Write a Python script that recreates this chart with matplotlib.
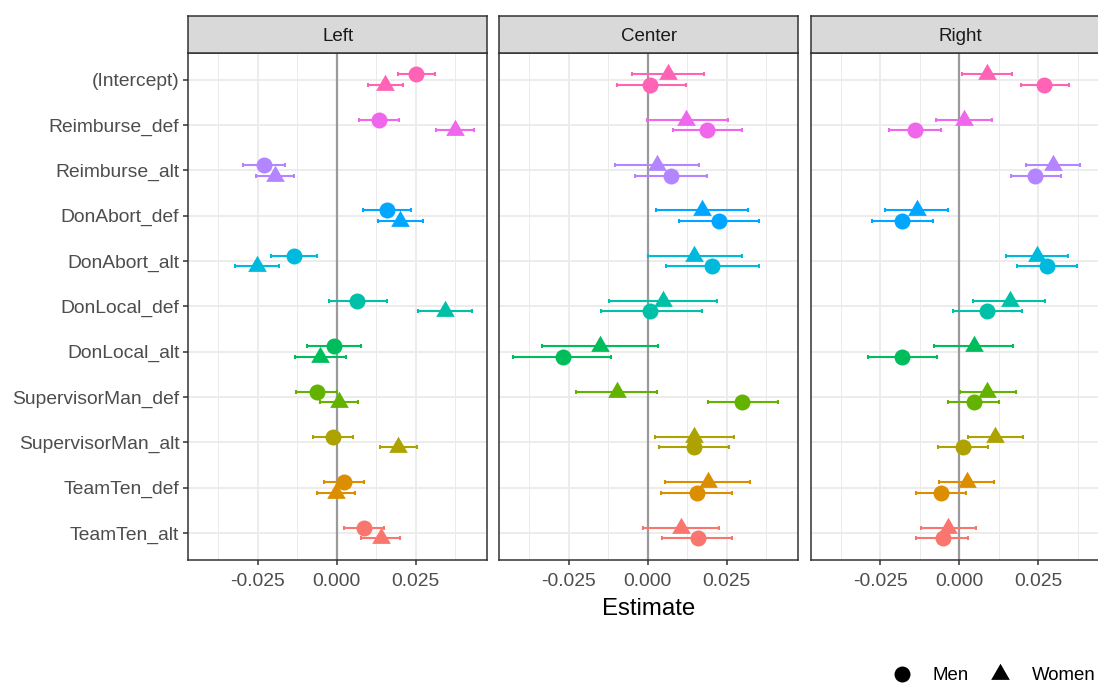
import matplotlib
matplotlib.use("Agg")
import matplotlib.pyplot as plt
from matplotlib.lines import Line2D
from matplotlib.ticker import FixedLocator
import numpy as np

plt.rcParams['font.family'] = ['Liberation Sans', 'DejaVu Sans']

# ---- data ----
terms = ["TeamTen_alt", "TeamTen_def", "SupervisorMan_alt", "SupervisorMan_def",
         "DonLocal_alt", "DonLocal_def", "DonAbort_alt", "DonAbort_def",
         "Reimburse_alt", "Reimburse_def", "(Intercept)"]
term_colors = ["#F8766D", "#DB8E00", "#AEA200", "#64B200", "#00BD5C", "#00C1A7",
               "#00BADE", "#00A6FF", "#B385FF", "#EF67EB", "#FF63B6"]
panels = ["Left", "Center", "Right"]
x_ticks = [-0.025, 0.0, 0.025]
x_tick_labels = ["-0.025", "0.000", "0.025"]
groups = ["Men", "Women"]

# order of values follows `terms` (bottom to top)
left_men = [0.0086, 0.0025, -0.0012, -0.0063, -0.0008, 0.0066, -0.0136, 0.0160, -0.0229, 0.0135, 0.0252]
left_men_lo = [0.0022, -0.0039, -0.0076, -0.0127, -0.0095, -0.0024, -0.0208, 0.0085, -0.0296, 0.0072, 0.0193]
left_men_hi = [0.0149, 0.0087, 0.0053, 0.0001, 0.0078, 0.0159, -0.0062, 0.0236, -0.0163, 0.0197, 0.0311]
left_women = [0.0139, -0.0002, 0.0195, 0.0007, -0.0053, 0.0344, -0.0252, 0.0201, -0.0195, 0.0375, 0.0153]
left_women_lo = [0.0077, -0.0061, 0.0137, -0.0053, -0.0132, 0.0259, -0.0320, 0.0132, -0.0255, 0.0314, 0.0098]
left_women_hi = [0.0200, 0.0058, 0.0255, 0.0068, 0.0029, 0.0427, -0.0182, 0.0272, -0.0135, 0.0435, 0.0209]

center_men = [0.0158, 0.0155, 0.0146, 0.0300, -0.0269, 0.0009, 0.0203, 0.0225, 0.0075, 0.0189, 0.0009]
center_men_lo = [0.0045, 0.0042, 0.0035, 0.0191, -0.0426, -0.0148, 0.0057, 0.0098, -0.0040, 0.0080, -0.0097]
center_men_hi = [0.0268, 0.0266, 0.0258, 0.0414, -0.0116, 0.0171, 0.0351, 0.0353, 0.0188, 0.0299, 0.0121]
center_women = [0.0106, 0.0191, 0.0147, -0.0096, -0.0149, 0.0049, 0.0147, 0.0173, 0.0031, 0.0122, 0.0063]
center_women_lo = [-0.0015, 0.0056, 0.0022, -0.0225, -0.0333, -0.0123, 0.0000, 0.0028, -0.0102, -0.0003, -0.0049]
center_women_hi = [0.0226, 0.0324, 0.0273, 0.0031, 0.0033, 0.0221, 0.0298, 0.0316, 0.0163, 0.0253, 0.0177]

right_men = [-0.0053, -0.0058, 0.0013, 0.0045, -0.0180, 0.0087, 0.0277, -0.0180, 0.0241, -0.0139, 0.0269]
right_men_lo = [-0.0136, -0.0138, -0.0068, -0.0036, -0.0288, -0.0021, 0.0183, -0.0275, 0.0163, -0.0223, 0.0194]
right_men_hi = [0.0029, 0.0022, 0.0092, 0.0124, -0.0069, 0.0198, 0.0372, -0.0084, 0.0321, -0.0057, 0.0347]
right_women = [-0.0036, 0.0024, 0.0114, 0.0089, 0.0045, 0.0160, 0.0247, -0.0134, 0.0297, 0.0016, 0.0087]
right_women_lo = [-0.0120, -0.0063, 0.0028, 0.0001, -0.0081, 0.0044, 0.0148, -0.0234, 0.0212, -0.0074, 0.0008]
right_women_hi = [0.0052, 0.0111, 0.0200, 0.0178, 0.0171, 0.0271, 0.0344, -0.0036, 0.0383, 0.0103, 0.0168]

panel_data = {
    "Left": (left_men, left_men_lo, left_men_hi, left_women, left_women_lo, left_women_hi),
    "Center": (center_men, center_men_lo, center_men_hi, center_women, center_women_lo, center_women_hi),
    "Right": (right_men, right_men_lo, right_men_hi, right_women, right_women_lo, right_women_hi),
}
# in the Left facet Men is dodged upward; in the others Women is
men_on_top = {"Left": True, "Center": False, "Right": False}

# ---- figure ----
W, H = 1098, 684
fig = plt.figure(figsize=(W / 100, H / 100), dpi=100)

panel_x0 = [188.3, 499.3, 811.0]
panel_w = 298.8
panel_top, panel_bot = 52.5, 560.0
strip_top = 16.0

tri = [(-1, -0.577), (1, -0.577), (0, 1.155)]
dodge = 0.115
ypos = np.arange(1, len(terms) + 1)

tick_col = "#4D4D4D"
tick_fs = 13.9

for i, name in enumerate(panels):
    x0 = panel_x0[i]
    ax = fig.add_axes([x0 / W, 1 - panel_bot / H, panel_w / W, (panel_bot - panel_top) / H])
    ax.set_xlim(-0.0469, 0.0476)
    ax.set_ylim(0.4, len(terms) + 0.6)
    ax.set_facecolor("white")
    ax.xaxis.set_major_locator(FixedLocator(x_ticks))
    ax.set_xticklabels(x_tick_labels)
    ax.xaxis.set_minor_locator(FixedLocator([-0.0375, -0.0125, 0.0125, 0.0375]))
    ax.set_yticks(ypos)
    ax.grid(which="major", color="#EBEBEB", lw=1.3, zorder=0)
    ax.grid(which="minor", axis="x", color="#EBEBEB", lw=0.7, zorder=0)
    ax.set_axisbelow(True)
    ax.tick_params(axis="both", which="major", colors="#333333", labelcolor=tick_col,
                   labelsize=tick_fs, length=3.5, width=1.1)
    ax.tick_params(axis="x", which="major", pad=5.5)
    ax.tick_params(axis="y", which="major", pad=3)
    ax.tick_params(axis="x", which="minor", length=0)
    if i == 0:
        ax.set_yticklabels(terms)
    else:
        ax.set_yticklabels([])
        ax.tick_params(axis="y", which="major", length=0)
    for sp in ax.spines.values():
        sp.set_color("#333333")
        sp.set_linewidth(1.1)
    ax.axvline(0, color="#9A9A9A", lw=1.6, zorder=1)

    m, mlo, mhi, w, wlo, whi = panel_data[name]
    sgn = 1 if men_on_top[name] else -1
    for k in range(len(terms)):
        c = term_colors[k]
        ym = ypos[k] + sgn * dodge
        yw = ypos[k] - sgn * dodge
        ax.errorbar([m[k]], [ym], xerr=[[m[k] - mlo[k]], [mhi[k] - m[k]]], fmt="none",
                    ecolor=c, elinewidth=1.5, capsize=1.7, capthick=1.5, zorder=3)
        ax.errorbar([w[k]], [yw], xerr=[[w[k] - wlo[k]], [whi[k] - w[k]]], fmt="none",
                    ecolor=c, elinewidth=1.5, capsize=1.7, capthick=1.5, zorder=3)
        ax.plot([m[k]], [ym], marker="o", ms=11.5, color=c, mec="none", zorder=4)
        ax.plot([w[k]], [yw], marker=tri, ms=15.5, color=c, mec="none", zorder=4)

    # strip
    sax = fig.add_axes([x0 / W, 1 - panel_top / H, panel_w / W, (panel_top - strip_top) / H])
    sax.set_facecolor("#D9D9D9")
    sax.set_xticks([])
    sax.set_yticks([])
    for sp in sax.spines.values():
        sp.set_color("#333333")
        sp.set_linewidth(1.1)
    sax.text(0.5, 0.44, name, ha="center", va="center", fontsize=13.5, color="#1A1A1A",
             transform=sax.transAxes)

    if i == 1:
        ax.set_xlabel("Estimate", fontsize=17.3, color="black", labelpad=6)

# legend (bottom right)
leg_y = 1 - 674 / H
txt_y = 1 - 676 / H
leg_items = [(902, "o", 11.5, 932), (1000, tri, 15.5, 1032)]
for (mx, mk, ms, tx), lab in zip(leg_items, groups):
    fig.add_artist(Line2D([mx / W], [leg_y], marker=mk, ms=ms, color="black", mec="none",
                          ls="none", transform=fig.transFigure))
    fig.text(tx / W, txt_y, lab, ha="left", va="center", fontsize=13.4, color="black")

fig.savefig("out.png", dpi=100)
